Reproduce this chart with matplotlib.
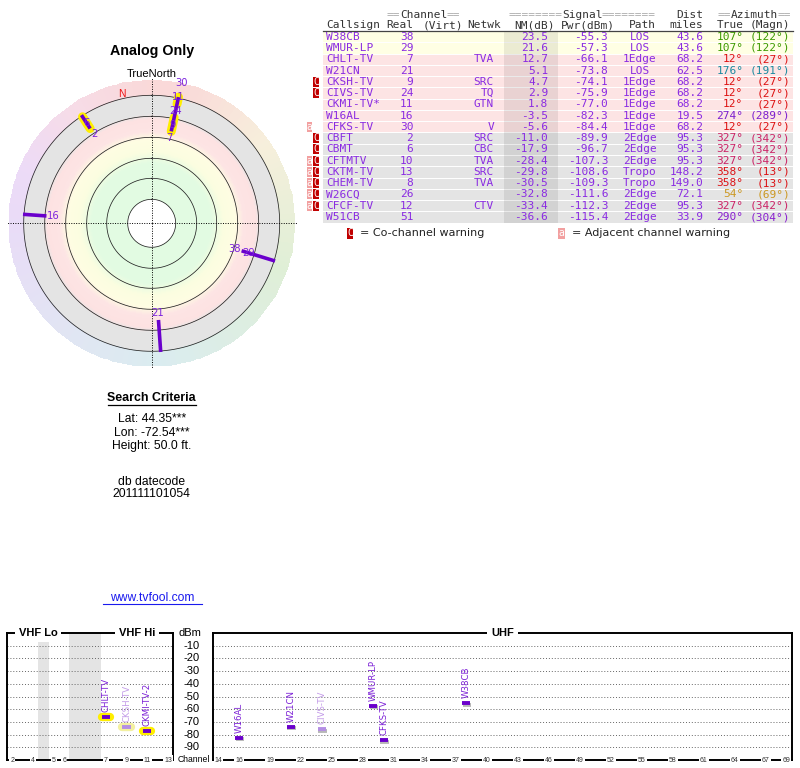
"""
TV Fool style signal report: analog stations only.
Radar plot, station table and channel spectrum.
"""

import numpy as np
import matplotlib
matplotlib.use("Agg")
import matplotlib.pyplot as plt
from matplotlib import patheffects as pe
from matplotlib.colors import LinearSegmentedColormap, to_rgb
from matplotlib.patches import Rectangle
from matplotlib.transforms import blended_transform_factory

# -----------------------------
# Data
# -----------------------------
callsign = ["W38CB", "WMUR-LP", "CHLT-TV", "W21CN", "CKSH-TV", "CIVS-TV",
            "CKMI-TV*", "W16AL", "CFKS-TV", "CBFT", "CBMT", "CFTMTV",
            "CKTM-TV", "CHEM-TV", "W26CQ", "CFCF-TV", "W51CB"]
real_ch = [38, 29, 7, 21, 9, 24, 11, 16, 30, 2, 6, 10, 13, 8, 26, 12, 51]
netwk = ["", "", "TVA", "", "SRC", "TQ", "GTN", "", "V", "SRC", "CBC",
         "TVA", "SRC", "TVA", "", "CTV", ""]
nm_db = [23.5, 21.6, 12.7, 5.1, 4.7, 2.9, 1.8, -3.5, -5.6, -11.0, -17.9,
         -28.4, -29.8, -30.5, -32.8, -33.4, -36.6]
pwr_dbm = [-55.3, -57.3, -66.1, -73.8, -74.1, -75.9, -77.0, -82.3, -84.4,
           -89.9, -96.7, -107.3, -108.6, -109.3, -111.6, -112.3, -115.4]
path = ["LOS", "LOS", "1Edge", "LOS", "1Edge", "1Edge", "1Edge", "1Edge",
        "1Edge", "2Edge", "2Edge", "2Edge", "Tropo", "Tropo", "2Edge",
        "2Edge", "2Edge"]
dist_mi = [43.6, 43.6, 68.2, 62.5, 68.2, 68.2, 68.2, 19.5, 68.2, 95.3, 95.3,
           95.3, 148.2, 149.0, 72.1, 95.3, 33.9]
az_true = [107, 107, 12, 176, 12, 12, 12, 274, 12, 327, 327, 327, 358, 358,
           54, 327, 290]
az_magn = [122, 122, 27, 191, 27, 27, 27, 289, 27, 342, 342, 342, 13, 13,
           69, 342, 304]
warn = ["", "", "", "", "C", "C", "", "", "a", "C", "C", "aC", "aC", "aC",
        "aC", "aC", ""]

# names used on the spectrum chart (first nine stations)
spec_name = ["W38CB", "WMUR-LP", "CHLT-TV", "W21CN", "CKSH-TV", "CIVS-TV",
             "CKMI-TV-2", "W16AL", "CFKS-TV"]

vhf_ticks = [2, 4, 5, 6, 7, 9, 11, 13]
uhf_ticks = [14] + list(range(16, 68, 3)) + [69]
dbm_ticks = list(range(-10, -100, -10))

# -----------------------------
# Styling
# -----------------------------
W, H = 800, 768
PURPLE = "#8a2be2"
MARK = "#6a00cc"
SANS = "Liberation Sans"

az_cmap = LinearSegmentedColormap.from_list("az", [
    (0.0, "#dd1111"), (0.033, "#dd1111"), (0.15, "#cc9922"),
    (0.30, "#3a9a00"), (0.49, "#1a8aa0"), (0.76, "#7a1fd0"),
    (0.81, "#8a1fd0"), (0.91, "#cc2266"), (1.0, "#dd1111")])


def px_axes(fig, x0, y0, x1, y1, **kw):
    return fig.add_axes([x0 / W, 1 - y1 / H, (x1 - x0) / W, (y1 - y0) / H], **kw)


def vhf_pos(ch):
    # channel slots: 2-4, gap, 5-6, FM band (3 slots), 7-13
    if ch <= 4:
        return ch - 2 + 0.5
    if ch <= 6:
        return ch - 1 + 0.5
    return ch + 2 + 0.5


fig = plt.figure(figsize=(W / 100, H / 100), dpi=100)

ov = fig.add_axes([0, 0, 1, 1])
ov.set_xlim(0, W)
ov.set_ylim(H, 0)
ov.axis("off")

# -----------------------------
# Radar
# -----------------------------
CX, CY, RA = 151.7, 223.3, 147
rad = px_axes(fig, CX - RA, CY - RA, CX + RA, CY + RA, projection="polar")
rad.set_theta_zero_location("N")
rad.set_theta_direction(-1)
rad.set_ylim(0, RA)
rad.set_axis_off()

th = np.linspace(0, 2 * np.pi, 181)
rr = np.arange(24, 144, 1.0)
tc = 0.5 * (th[1:] + th[:-1])
rc = 0.5 * (rr[1:] + rr[:-1])

grad_r = [24, 60, 72, 84, 92, 104, 109, 128]
grad_c = np.array([to_rgb(c) for c in ["#e2fbe2", "#e2fbe2", "#fbfde0", "#fefde2",
                                       "#fde4e4", "#fde2e2", "#e4e4e4", "#e4e4e4"]])
rgb = np.ones((len(rc), len(tc), 3))
for i, r in enumerate(rc):
    if r < 128:
        rgb[i, :, :] = [np.interp(r, grad_r, grad_c[:, k]) for k in range(3)]
    else:
        hue = np.array(az_cmap(tc / (2 * np.pi)))[:, :3]
        rgb[i, :, :] = 0.84 + 0.16 * hue
rad.pcolormesh(th, rr, rgb, shading="flat", zorder=0)

tt = np.linspace(0, 2 * np.pi, 361)
for r in [24, 45, 65, 86, 107, 128]:
    rad.plot(tt, np.full_like(tt, r), color="#222222", lw=0.55, zorder=1)
for a in [0, 90, 180, 270]:
    rad.plot([np.deg2rad(a)] * 2, [0, 145], color="k", lw=0.7,
             ls=(0, (1, 1.5)), zorder=1)

rad.text(np.deg2rad(-13), 133, "N", color="#ee1111", fontsize=7.5,
         family=SANS, ha="center", va="center")

# stations with usable margin, grouped by bearing
radar_idx = [i for i in range(len(nm_db)) if nm_db[i] > -20]
groups = {}
for i in radar_idx:
    groups.setdefault(az_true[i], []).append(i)

for az, idxs in groups.items():
    idxs = sorted(idxs, key=lambda k: -nm_db[k])
    t = np.deg2rad(az)
    r0 = max(94, 102 - nm_db[idxs[0]])
    for k, i in enumerate(idxs):
        lr = r0 - 7 + 14 * k
        lo, hi = max(lr - 7, r0), min(lr + 7, 129)
        if real_ch[i] <= 13 and hi > lo:
            rad.plot([t, t], [lo, hi], color="#ffee00", lw=6.5,
                     solid_capstyle="round", zorder=3)
        rad.text(t, lr, str(real_ch[i]), color="#7b22dd", fontsize=7.2,
                 ha="center", va="center", zorder=5)
    rad.plot([t, t], [r0, 129], color=MARK, lw=2.6,
             solid_capstyle="butt", zorder=4)

ov.text(CX, 51, "Analog Only", fontsize=10.3, fontweight="bold", family=SANS,
        ha="center", va="center")
ov.text(CX, 74, "TrueNorth", fontsize=8, family=SANS, ha="center", va="center")

# -----------------------------
# Search criteria
# -----------------------------
ov.text(CX, 398.3, "Search Criteria", fontsize=8.9, fontweight="bold",
        family=SANS, ha="center", va="center")
ov.plot([108, 195.7], [405, 405], color="k", lw=0.9)
for y, s in [(419.3, "Lat: 44.35***"), (432.7, "Lon: -72.54***"),
             (445.7, "Height: 50.0 ft."), (482.3, "db datecode"),
             (494, "201111101054")]:
    ov.text(CX, y, s, fontsize=8.7, family=SANS, ha="center", va="center")
ov.text(152.2, 597.7, "www.tvfool.com", fontsize=8.7, family=SANS,
        color="#1a1aee", ha="center", va="center")
ov.plot([102.7, 201.7], [604, 604], color="#1a1aee", lw=0.8)

# -----------------------------
# Station table
# -----------------------------
ROW0, PITCH = 36.7, 11.27
XL, XR = 323.3, 792.7
mono = dict(family="DejaVu Sans Mono", fontsize=8, va="center")
cw = 0.6021 * 8 * 100 / 72


def banner(x, word, n, y=15):
    ov.text(x, y, "=" * n, color="#aaaaaa", ha="left", **mono)
    ov.text(x + n * cw, y, word, color="#333333", ha="left", **mono)
    ov.text(x + (n + len(word)) * cw, y, "=" * n, color="#aaaaaa", ha="left", **mono)


banner(386.7, "Channel", 2)
banner(508.3, "Signal", 8)
banner(717.3, "Azimuth", 2)
ov.text(703.3, 15, "Dist", color="#333333", ha="right", **mono)

hdr = [(326, "left", "Callsign"), (413.3, "right", "Real"),
       (422.7, "left", "(Virt)"), (501, "right", "Netwk"),
       (555, "right", "NM(dB)"), (615, "right", "Pwr(dBm)"),
       (642, "center", "Path"), (703.3, "right", "miles"),
       (743.3, "right", "True"), (790, "right", "(Magn)")]
for x, ha, s in hdr:
    ov.text(x, 25, s, color="#333333", ha=ha, **mono)
ov.plot([XL, XR], [30.8, 30.8], color="#444444", lw=0.9)

n_rows = len(callsign)
for i in range(n_rows):
    y = ROW0 + PITCH * i
    if nm_db[i] >= 15:
        band = "#ffffe4"
    elif nm_db[i] >= -10:
        band = "#fde4e4"
    else:
        band = "#e4e4e4"
    ov.add_patch(Rectangle((XL, y - PITCH / 2), XR - XL, PITCH, fc=band,
                           ec="none", zorder=0))
    if i < n_rows - 1:
        ov.plot([XL, XR], [y + PITCH / 2] * 2, color="white", lw=0.7, zorder=0.5)

    ov.text(326, y, callsign[i], color=PURPLE, ha="left", **mono)
    ov.text(413.3, y, str(real_ch[i]), color=PURPLE, ha="right", **mono)
    ov.text(494, y, netwk[i], color=PURPLE, ha="right", **mono)
    ov.text(548.3, y, f"{nm_db[i]:.1f}", color=PURPLE, ha="right", **mono)
    ov.text(608.3, y, f"{pwr_dbm[i]:.1f}", color=PURPLE, ha="right", **mono)
    ov.text(640, y, path[i], color=PURPLE, ha="center", **mono)
    ov.text(703.3, y, f"{dist_mi[i]:.1f}", color=PURPLE, ha="right", **mono)
    ac = az_cmap(az_true[i] / 360)
    ov.text(743.3, y, f"{az_true[i]}\u00b0", color=ac, ha="right", **mono)
    ov.text(790, y, f"({az_magn[i]}\u00b0)", color=ac, ha="right", **mono)

    if "a" in warn[i]:
        ov.add_patch(Rectangle((306.7, y - 5), 5.6, 10, fc="#f2a0a0", ec="none"))
        ov.text(309.5, y, "a", color="white", ha="center",
                family="DejaVu Sans Mono", fontsize=7, va="center")
    if "C" in warn[i]:
        ov.add_patch(Rectangle((313.3, y - 5), 6, 10, fc="#c00000", ec="none"))
        ov.text(316.3, y, "C", color="white", ha="center",
                family="DejaVu Sans Mono", fontsize=7, va="center")

# NM column shade
ov.add_patch(Rectangle((504, ROW0 - PITCH / 2), 53.7, PITCH * n_rows,
                       fc="k", alpha=0.08, ec="none", zorder=0.6))

# legend
ov.add_patch(Rectangle((346.7, 228), 6.6, 11, fc="#c00000", ec="none"))
ov.text(350, 233.3, "C", color="white", ha="center", family="DejaVu Sans Mono",
        fontsize=7, va="center")
ov.text(360, 233.3, "= Co-channel warning", color="#222222", ha="left",
        va="center", fontsize=8, family="DejaVu Sans")
ov.add_patch(Rectangle((557.7, 228), 7.3, 11, fc="#f2a0a0", ec="none"))
ov.text(561.3, 233.3, "a", color="white", ha="center", family="DejaVu Sans Mono",
        fontsize=7, va="center")
ov.text(571.7, 233.3, "= Adjacent channel warning", color="#222222", ha="left",
        va="center", fontsize=8, family="DejaVu Sans")

# -----------------------------
# Spectrum
# -----------------------------
ax1 = px_axes(fig, 7, 633, 173.3, 760)
ax2 = px_axes(fig, 213.3, 633, 791.5, 760)
ax1.set_xlim(0, 16)
ax2.set_xlim(13.5, 69.5)
for ax in (ax1, ax2):
    ax.set_ylim(-100, 0)
    ax.set_yticks(dbm_ticks)
    ax.set_xticks([])
    ax.tick_params(length=0, labelleft=False)
    ax.yaxis.grid(True, color="#666666", lw=0.7, ls=(0, (1, 2)))
    for sp in ax.spines.values():
        sp.set_linewidth(1.4)

ax1.axvspan(3, 4, color="#e4e4e4", lw=0, zorder=0.5)
ax1.axvspan(6, 9, color="#e4e4e4", lw=0, zorder=0.5)

title_kw = dict(fontsize=8, fontweight="bold", family=SANS, ha="center",
                va="center", clip_on=False,
                bbox=dict(fc="white", ec="none", boxstyle="square,pad=0.35"))
ax1.text(3.0, 0, "VHF Lo", **title_kw)
ax1.text(12.5, 0, "VHF Hi", **title_kw)
ax2.text(41.5, 0, "UHF", **title_kw)

tick_kw = dict(fontsize=5, family=SANS, ha="center", va="center", clip_on=False,
               color="#333333",
               bbox=dict(fc="white", ec="none", boxstyle="square,pad=0.15"))
for ch in vhf_ticks:
    ax1.text(vhf_pos(ch), -100, str(ch), **tick_kw)
for ch in uhf_ticks:
    ax2.text(ch, -100, str(ch), **tick_kw)

tr = blended_transform_factory(ax1.transAxes, ax1.transData)
ax1.text(1.103, 0, "dBm", transform=tr, fontsize=8, family=SANS,
         ha="center", va="center", clip_on=False)
for v in dbm_ticks:
    ax1.text(1.108, v, str(v), transform=tr, fontsize=8, family=SANS,
             ha="center", va="center", clip_on=False)
ax1.text(1.123, -100, "Channel", transform=tr, fontsize=6.2, family=SANS,
         ha="center", va="center", clip_on=False,
         bbox=dict(fc="white", ec="none", boxstyle="square,pad=0.1"))

for i, name in enumerate(spec_name):
    ch = real_ch[i]
    vhf = ch <= 13
    ax = ax1 if vhf else ax2
    x = vhf_pos(ch) if vhf else ch
    light = "C" in warn[i]
    col = "#b48ee4" if light else MARK
    tcol = "#c39be8" if light else "#7b1fd6"
    if vhf:
        fx = [pe.Stroke(linewidth=6, foreground="#f3f0a0" if light else "#ffee00",
                        capstyle="round"), pe.Normal()]
    else:
        fx = [pe.SimpleLineShadow(offset=(0.6, -1.0), shadow_color="#888888",
                                  alpha=0.6), pe.Normal()]
    ax.plot([x - 0.4, x + 0.4], [pwr_dbm[i]] * 2, color=col, lw=2.8,
            solid_capstyle="butt", path_effects=fx, zorder=4)
    ax.annotate(name, (x, pwr_dbm[i]), xytext=(0, 3.6),
                textcoords="offset points", rotation=90, ha="center",
                va="bottom", fontsize=6.2, color=tcol, family="DejaVu Sans",
                zorder=5)

fig.savefig("out.png", dpi=100)
